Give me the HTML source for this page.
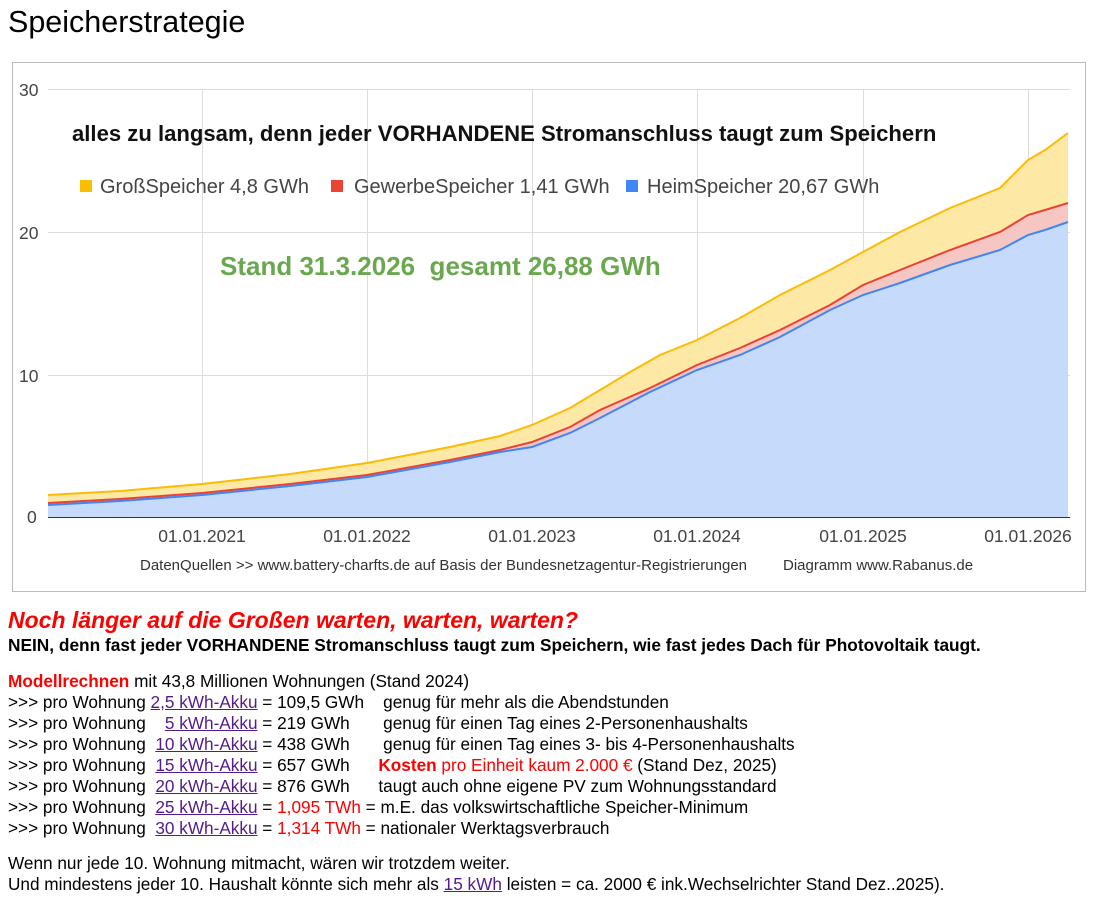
<!DOCTYPE html>
<html><head><meta charset="utf-8"><style>
body{margin:0;background:#fff;font-family:"Liberation Sans",Arial,sans-serif;width:1099px;height:907px;overflow:hidden;position:relative}
.t{position:absolute;white-space:pre;color:#000}
a{color:#551a8b;text-decoration:underline}
.r{color:#f00}
.l{font-size:17.2px;left:8px}
</style></head><body>
<div class="t" style="left:8px;top:5px;font-size:30.5px">Speicherstrategie</div>
<svg style="position:absolute;left:0;top:0" width="1099" height="600">
<rect x="12.5" y="62.5" width="1073" height="529" fill="#fff" stroke="#bbb"/>
<g stroke="#ddd" stroke-width="1">
<line x1="48" y1="89.5" x2="1070" y2="89.5"/><line x1="48" y1="232.5" x2="1070" y2="232.5"/><line x1="48" y1="375.5" x2="1070" y2="375.5"/>
<line x1="202.5" y1="89" x2="202.5" y2="517"/><line x1="367.5" y1="89" x2="367.5" y2="517"/><line x1="532.5" y1="89" x2="532.5" y2="517"/><line x1="697.5" y1="89" x2="697.5" y2="517"/><line x1="863.5" y1="89" x2="863.5" y2="517"/><line x1="1028.5" y1="89" x2="1028.5" y2="517"/>
</g>
<polygon fill="#fde8a6" points="48,495 120,491 202,484 290,474 367,463 450,447 500,436 532,425 570,408 600,390 630,372 660,355 697,340 740,318 780,295 830,270 863,252 900,232 950,208 1000,188 1028,160 1045,150 1068,133 1068,517 48,517"/>
<polygon fill="#f6c6c2" points="48,503 120,499 202,493 290,484 367,475 450,460 500,450 532,442 570,427 600,410 650,388 697,365 740,348 780,330 830,305 863,285 900,270 950,250 1000,232 1028,215 1045,210 1068,203 1068,517 48,517"/>
<polygon fill="#c6dafc" points="48,505 120,501 202,495 290,486 367,477 450,462 500,452 532,447 570,433 600,418 650,392 697,370 740,355 780,337 830,310 863,295 900,283 950,265 1000,250 1028,235 1045,230 1068,222 1068,517 48,517"/>
<polyline fill="none" stroke="#fbbc04" stroke-width="2" points="48,495 120,491 202,484 290,474 367,463 450,447 500,436 532,425 570,408 600,390 630,372 660,355 697,340 740,318 780,295 830,270 863,252 900,232 950,208 1000,188 1028,160 1045,150 1068,133"/>
<polyline fill="none" stroke="#ea4335" stroke-width="2" points="48,503 120,499 202,493 290,484 367,475 450,460 500,450 532,442 570,427 600,410 650,388 697,365 740,348 780,330 830,305 863,285 900,270 950,250 1000,232 1028,215 1045,210 1068,203"/>
<polyline fill="none" stroke="#4285f4" stroke-width="2" points="48,505 120,501 202,495 290,486 367,477 450,462 500,452 532,447 570,433 600,418 650,392 697,370 740,355 780,337 830,310 863,295 900,283 950,265 1000,250 1028,235 1045,230 1068,222"/>
<line x1="48" y1="517.5" x2="1070" y2="517.5" stroke="#333"/>
<g font-family="Liberation Sans" font-size="17.5" fill="#444">
<text x="19" y="96">30</text><text x="19" y="239">20</text><text x="27" y="523">0</text><text x="19" y="382">10</text>
<g text-anchor="middle"><text x="202" y="542">01.01.2021</text><text x="367" y="542">01.01.2022</text><text x="532" y="542">01.01.2023</text><text x="697" y="542">01.01.2024</text><text x="863" y="542">01.01.2025</text><text x="1028" y="542">01.01.2026</text></g>
<text x="140" y="570" font-size="15" fill="#333">DatenQuellen &gt;&gt; www.battery-charfts.de auf Basis der Bundesnetzagentur-Registrierungen</text>
<text x="783" y="570" font-size="15" fill="#333">Diagramm www.Rabanus.de</text>
</g>
<text x="72" y="141" font-family="Liberation Sans" font-weight="bold" font-size="22.1" fill="#111">alles zu langsam, denn jeder VORHANDENE Stromanschluss taugt zum Speichern</text>
<g font-family="Liberation Sans" font-size="20" fill="#444">
<rect x="80" y="180" width="12" height="12" fill="#fbbc04"/><text x="100" y="193">GroßSpeicher 4,8 GWh</text>
<rect x="331" y="180" width="12" height="12" fill="#ea4335"/><text x="354" y="193">GewerbeSpeicher 1,41 GWh</text>
<rect x="626" y="180" width="12" height="12" fill="#4285f4"/><text x="647" y="193">HeimSpeicher 20,67 GWh</text>
</g>
<text x="220" y="275" font-family="Liberation Sans" font-weight="bold" font-size="26" fill="#6aa84f" xml:space="preserve">Stand 31.3.2026  gesamt 26,88 GWh</text>
</svg>
<div class="t r" style="left:8px;top:607px;font-size:23px;font-weight:bold;font-style:italic">Noch länger auf die Großen warten, warten, warten?</div>
<div class="t" style="left:8px;top:635px;font-size:17.3px;font-weight:bold">NEIN, denn fast jeder VORHANDENE Stromanschluss taugt zum Speichern, wie fast jedes Dach für Photovoltaik taugt.</div>
<div class="t l" style="top:671px"><b class="r">Modellrechnen</b> mit 43,8 Millionen Wohnungen (Stand 2024)</div>
<div class="t l" style="top:692px">&gt;&gt;&gt; pro Wohnung <a>2,5 kWh-Akku</a> = 109,5 GWh    genug für mehr als die Abendstunden</div>
<div class="t l" style="top:713px">&gt;&gt;&gt; pro Wohnung    <a>5 kWh-Akku</a> = 219 GWh       genug für einen Tag eines 2-Personenhaushalts</div>
<div class="t l" style="top:734px">&gt;&gt;&gt; pro Wohnung  <a>10 kWh-Akku</a> = 438 GWh       genug für einen Tag eines 3- bis 4-Personenhaushalts</div>
<div class="t l" style="top:755px">&gt;&gt;&gt; pro Wohnung  <a>15 kWh-Akku</a> = 657 GWh      <b class="r">Kosten</b><span class="r"> pro Einheit kaum 2.000 €</span> (Stand Dez, 2025)</div>
<div class="t l" style="top:776px">&gt;&gt;&gt; pro Wohnung  <a>20 kWh-Akku</a> = 876 GWh      taugt auch ohne eigene PV zum Wohnungsstandard</div>
<div class="t l" style="top:797px">&gt;&gt;&gt; pro Wohnung  <a>25 kWh-Akku</a> = <span class="r">1,095 TWh</span> = m.E. das volkswirtschaftliche Speicher-Minimum</div>
<div class="t l" style="top:818px">&gt;&gt;&gt; pro Wohnung  <a>30 kWh-Akku</a> = <span class="r">1,314 TWh</span> = nationaler Werktagsverbrauch</div>
<div class="t l" style="top:853px">Wenn nur jede 10. Wohnung mitmacht, wären wir trotzdem weiter.</div>
<div class="t l" style="top:874px">Und mindestens jeder 10. Haushalt könnte sich mehr als <a>15 kWh</a> leisten = ca. 2000 € ink.Wechselrichter Stand Dez..2025).</div>
</body></html>
